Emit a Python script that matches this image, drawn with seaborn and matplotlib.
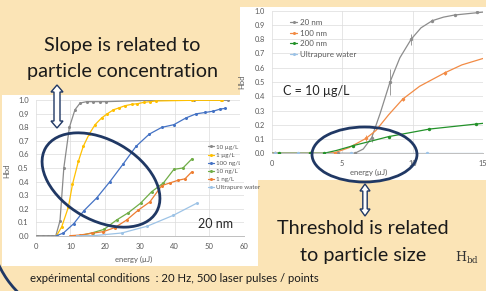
import matplotlib
matplotlib.use("Agg")
import numpy as np
import pandas as pd
import matplotlib.pyplot as plt
import seaborn as sns
from matplotlib.patches import Rectangle, Ellipse, Arc, Polygon
from matplotlib.lines import Line2D
from matplotlib.transforms import Affine2D

W, H = 486, 291

# ---- left chart: 20 nm particles at several concentrations ----
conc_names = ["10 µg/L", "1 µg/L", "100 ng/L", "10 ng/L", "1 ng/L", "Ultrapure water"]
conc_colors = ["#8a8a8a", "#ffc000", "#4472c4", "#70ad47", "#ed7d31", "#9dc3e6"]

e_10ug = [0.3, 2.2, 3.4, 4.6, 5.8, 7.0, 8.1, 9.7, 11.3, 12.8, 14.7, 16.6, 18.5, 20.3, 33.1, 45.6, 55.3]
h_10ug = [0, 0, 0, 0, 0, 0.11, 0.5, 0.8, 0.93, 0.98, 0.99, 0.99, 0.99, 0.99, 1.0, 1.0, 1.0]

e_1ug = [6.0, 7.5, 9.4, 10.6, 12.3, 13.7, 15.4, 17.1, 19.0, 20.6, 22.4, 24.1, 25.7, 27.6, 29.3, 31.2, 32.9, 34.6, 45.0, 53.3, 53.8]
h_1ug = [0, 0.066, 0.21, 0.38, 0.55, 0.66, 0.75, 0.82, 0.87, 0.90, 0.93, 0.945, 0.96, 0.97, 0.975, 0.985, 0.99, 0.995, 1.0, 1.0, 1.0]

e_100ng = [6.0, 8.0, 11.0, 13.9, 17.6, 21.4, 25.2, 28.9, 32.7, 36.3, 39.8, 43.3, 46.2, 48.8, 51.2, 53.1, 54.5]
h_100ng = [0, 0.02, 0.09, 0.185, 0.28, 0.40, 0.53, 0.66, 0.75, 0.80, 0.82, 0.87, 0.90, 0.91, 0.92, 0.935, 0.94]

e_10ng = [12.7, 16.4, 19.7, 23.3, 26.7, 30.2, 33.4, 36.8, 39.8, 42.4, 45.1]
h_10ng = [0, 0.022, 0.047, 0.116, 0.17, 0.24, 0.325, 0.39, 0.49, 0.50, 0.57]

e_1ng = [9.9, 12.8, 16.1, 19.5, 22.8, 26.2, 29.6, 32.9, 36.3, 38.7, 41.1, 43.0, 44.9]
h_1ng = [0, 0.005, 0.018, 0.03, 0.06, 0.116, 0.19, 0.25, 0.37, 0.39, 0.41, 0.42, 0.47]

e_water = [11.8, 16.6, 24.8, 32.1, 39.6, 46.4]
h_water = [0, 0.0, 0.02, 0.07, 0.15, 0.24]

# ---- right chart: C = 10 µg/L, several particle sizes ----
size_names = ["20 nm", "100 nm", "200 nm", "Ultrapure water"]
size_colors = ["#8c8c8c", "#f28b45", "#23922a", "#9dc3e6"]

# measured points (with error bars)
pe_20 = [0.2, 2.8, 4.7, 5.9, 7.1, 8.4, 9.9, 11.4, 13.0, 14.6]
ph_20 = [0, 0, 0, 0, 0.11, 0.5, 0.8, 0.93, 0.97, 0.99]
err_20 = [0, 0, 0, 0, 0.03, 0.09, 0.04, 0.01, 0, 0]
pe_100 = [0.2, 2.7, 4.5, 6.7, 9.3, 12.3]
ph_100 = [0, 0, 0.005, 0.105, 0.38, 0.565]
err_100 = [0, 0, 0, 0.02, 0.01, 0.015]
pe_200 = [0.5, 2.7, 3.7, 5.8, 8.3, 11.2, 14.5]
ph_200 = [0, 0, 0, 0.054, 0.117, 0.17, 0.205]
pe_water = [0.2, 1.9, 5.6, 11.0]
ph_water = [0, 0, 0, 0]

# smoothed trend curves
ce_20 = [0, 5.9, 6.5, 7.1, 7.7, 8.4, 9.1, 9.9, 10.6, 11.4, 12.2, 13.0, 14.0, 15.0]
ch_20 = [0, 0, 0.03, 0.11, 0.28, 0.5, 0.67, 0.8, 0.88, 0.93, 0.955, 0.97, 0.98, 0.99]
ce_100 = [0, 3.8, 4.5, 5.5, 6.7, 7.4, 8.3, 9.3, 10.5, 12.3, 13.5, 15.0]
ch_100 = [0, 0, 0.005, 0.04, 0.105, 0.16, 0.27, 0.38, 0.47, 0.565, 0.62, 0.665]
ce_200 = [0, 3.7, 4.6, 5.8, 8.3, 11.2, 14.5, 15.0]
ch_200 = [0, 0, 0.02, 0.054, 0.117, 0.17, 0.205, 0.21]
ce_water = [0, 15.0]
ch_water = [0, 0]

sns.set_style("white")
plt.rcParams['font.family'] = ['Lato', 'DejaVu Sans']
plt.rcParams['mathtext.fontset'] = 'dejavuserif'

bg = "#fbe4b6"
navy = "#203864"
txt_gray = "#595959"
grid_c = "#dcdcdc"

fig = plt.figure(figsize=(W / 100, H / 100), dpi=100, facecolor=bg)
# pixel coordinates, y pointing down
px = Affine2D().scale(1 / W, -1 / H).translate(0, 1) + fig.transFigure


def panel(x0, y0, x1, y1, z):
    fig.add_artist(Rectangle((x0, y0), x1 - x0, y1 - y0, transform=px,
                             facecolor="white", edgecolor="none", zorder=z))


def axes_px(x0, y0, x1, y1, z):
    ax = fig.add_axes([x0 / W, 1 - y1 / H, (x1 - x0) / W, (y1 - y0) / H])
    ax.set_zorder(z)
    ax.patch.set_alpha(0)
    return ax


def style_axes(ax, fs):
    for s in ["top", "right", "left"]:
        ax.spines[s].set_visible(False)
    ax.spines["bottom"].set_color("#bfbfbf")
    ax.spines["bottom"].set_linewidth(0.7)
    ax.grid(True, color=grid_c, lw=0.5)
    ax.set_axisbelow(True)
    ax.tick_params(length=0, labelsize=fs, labelcolor=txt_gray, pad=5)
    ax.set_ylim(0, 1.0)
    ax.set_yticks(np.arange(0, 1.01, 0.1))
    ax.set_yticklabels([f"{v:.1f}" for v in np.arange(0, 1.01, 0.1)])


# ---------- left chart ----------
panel(2, 95, 258, 266, 1)
axl = axes_px(35.7, 100.3, 244, 235.7, 2)
left_e = [e_10ug, e_1ug, e_100ng, e_10ng, e_1ng, e_water]
left_h = [h_10ug, h_1ug, h_100ng, h_10ng, h_1ng, h_water]
for name, c, e, h in zip(conc_names, conc_colors, left_e, left_h):
    df = pd.DataFrame({"energy": e, "Hbd": h})
    sns.lineplot(data=df, x="energy", y="Hbd", ax=axl, color=c, lw=0.9,
                 marker="o", markersize=2.2, markeredgewidth=0, label=name)
style_axes(axl, 5.5)
axl.set_xlim(0, 60)
axl.set_xticks(range(0, 61, 10))
axl.set_xlabel("energy (µJ)", fontsize=5.5, color=txt_gray)
axl.set_ylabel("Hbd", fontsize=5.5, color=txt_gray)
axl.xaxis.set_label_coords(0.47, -0.15)
axl.yaxis.set_label_coords(-0.12, 0.48)
axl.legend(loc="upper left", bbox_to_anchor=(205 / W, 1 - 141 / H),
           bbox_transform=fig.transFigure, frameon=False, fontsize=4.5,
           handlelength=1.0, handletextpad=0.3, labelspacing=0.45,
           borderpad=0, labelcolor=txt_gray)

# ---------- right chart ----------
panel(240, 7, 486, 180, 3)
axr = axes_px(271.7, 10.7, 483, 153.3, 4)
curves_e = [ce_20, ce_100, ce_200, ce_water]
curves_h = [ch_20, ch_100, ch_200, ch_water]
pts = [(pe_20, ph_20, err_20), (pe_100, ph_100, err_100),
       (pe_200, ph_200, None), (pe_water, ph_water, None)]
for name, c, e, h, p in zip(size_names, size_colors, curves_e, curves_h, pts):
    sns.lineplot(x=e, y=h, ax=axr, color=c, lw=0.9, sort=False)
    sns.scatterplot(x=p[0], y=p[1], ax=axr, color=c, s=6, linewidth=0, zorder=3)
    if p[2] is not None:
        axr.errorbar(p[0], p[1], yerr=p[2], fmt="none", ecolor=c, elinewidth=0.6)
style_axes(axr, 5.3)
axr.set_xlim(0, 15)
axr.set_xticks([0, 5, 10, 15])
axr.set_xlabel("energy (µJ)", fontsize=5.5, color=txt_gray)
axr.set_ylabel("Hbd", fontsize=5.5, color=txt_gray)
axr.xaxis.set_label_coords(0.46, -0.11)
axr.yaxis.set_label_coords(-0.125, 0.5)
handles = [Line2D([], [], color=c, lw=0.9, marker="o", markersize=2.2,
                  markeredgewidth=0) for c in size_colors]
axr.legend(handles, size_names, loc="upper left",
           bbox_to_anchor=(286 / W, 1 - 15 / H), bbox_transform=fig.transFigure,
           frameon=False, fontsize=5.8, handlelength=0.9, handletextpad=0.3,
           labelspacing=0.45, borderpad=0, labelcolor=txt_gray)

# ---------- annotations ----------
fig.text(283, 91, "C = 10 µg/L", transform=px, fontsize=9, va="center", zorder=10)
fig.text(198, 224, "20 nm", transform=px, fontsize=9, va="center", zorder=10)

fig.add_artist(Ellipse((101, 180), 128, 80, angle=30, transform=px, fill=False,
                       edgecolor=navy, lw=2, zorder=8))
fig.add_artist(Ellipse((364.5, 154.5), 105, 55, transform=px, fill=False,
                       edgecolor=navy, lw=2, zorder=8))


def double_arrow(cx, y0, y1, hw, sw, hl):
    pts_ = [(cx, y0), (cx + hw, y0 + hl), (cx + sw, y0 + hl), (cx + sw, y1 - hl),
            (cx + hw, y1 - hl), (cx, y1), (cx - hw, y1 - hl), (cx - sw, y1 - hl),
            (cx - sw, y0 + hl), (cx - hw, y0 + hl)]
    fig.add_artist(Polygon(pts_, closed=True, transform=px, facecolor="white",
                           edgecolor=navy, lw=1.0, zorder=9))


double_arrow(57, 85, 128, 6, 3, 7)
double_arrow(365, 184, 216, 5, 2.2, 7)

fig.add_artist(Arc((85, 225), 190, 190, theta1=115, theta2=175, transform=px,
                   edgecolor=navy, lw=2, zorder=9))

big = 14.3
fig.text(122, 45, "Slope is related to", transform=px, fontsize=big,
         ha="center", va="center", color="#1a1a1a", zorder=10)
fig.text(122, 71, "particle concentration", transform=px, fontsize=big,
         ha="center", va="center", color="#1a1a1a", zorder=10)
fig.text(363, 228, "Threshold is related", transform=px, fontsize=big,
         ha="center", va="center", color="#1a1a1a", zorder=10)
fig.text(363, 255, "to particle size", transform=px, fontsize=big,
         ha="center", va="center", color="#1a1a1a", zorder=10)
fig.text(467, 258, r"$\mathrm{H_{bd}}$", transform=px, fontsize=9,
         ha="center", va="center", color="#333333", zorder=10)
fig.text(30, 279, "expérimental conditions  : 20 Hz, 500 laser pulses / points",
         transform=px, fontsize=8.2, va="center", color="#1a1a1a", zorder=10)

fig.savefig("out.png", dpi=100, facecolor=bg)
